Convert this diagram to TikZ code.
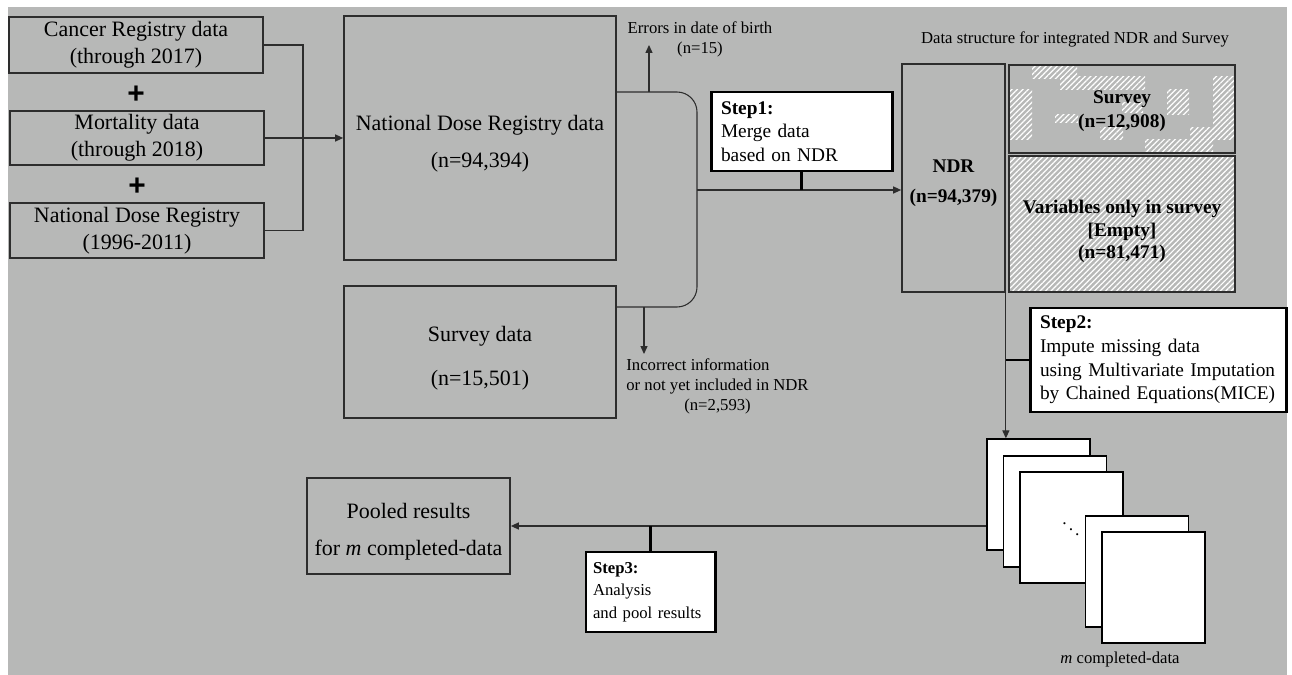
\documentclass[tikz,border=0pt]{standalone}
\usepackage{fontspec}
\setmainfont{Liberation Serif}
\setsansfont{Liberation Sans}
\usepackage{tikz}
\usetikzlibrary{positioning, shapes, arrows.meta, patterns.meta}
\definecolor{bggray}{RGB}{183,184,183}
\definecolor{edge}{RGB}{45,45,45}
\newdimen\px \px=0.02cm
\tikzset{
	srcbox/.style={draw=edge, line width=1pt, align=center, inner sep=0pt, font=\fontsize{12.5}{15.5}\selectfont},
	structbox/.style={draw=edge, line width=1pt, align=center, inner sep=0pt, font=\fontsize{11}{12.8}\selectfont\bfseries},
	stepbox/.style={draw=black, line width=1.7pt, fill=white, align=left, inner xsep=10\px, inner ysep=0pt, font=\fontsize{11}{13.4}\selectfont},
	page/.style={draw=black, fill=white, line width=.8pt, inner sep=0pt, minimum width=103\px, minimum height=111\px},
	note/.style={inner sep=0pt, font=\fontsize{9.5}{11.4}\selectfont},
	conn/.style={draw=edge, line width=.6pt},
	arr/.style={conn, -{Triangle[length=4.5pt, width=4pt]}},
	tick/.style={black, line width=1.7pt},
	hatch/.style={pattern={Lines[angle=45, distance=2.2pt, line width=.7pt]}, pattern color=white},
	plus/.style={inner sep=0pt, font=\fontsize{17}{17}\sffamily\bfseries},
	lowered/.style={text height=#1, text depth=0pt}
}

\begin{document}
\begin{tikzpicture}[x=\px, y=-\px]
\useasboundingbox (0,0) rectangle (1292,675);
\fill[white] (0,0) rectangle (1292,675);
\fill[bggray] (8,7) rectangle (1287,675);

% sources
\node[srcbox, minimum width=254\px, minimum height=56\px] (cancer) at (136,45) {Cancer Registry data\\(through 2017)};
\node[plus] (plusa) at (136,95) {+};
\node[srcbox, minimum width=254\px, minimum height=54\px] (mort) at (137,138) {Mortality data\\(through 2018)};
\node[plus] (plusb) at (137,187) {+};
\node[srcbox, minimum width=254\px, minimum height=55\px] (ndrsrc) at (137,230.5) {National Dose Registry\\(1996-2011)};
\coordinate (join) at (303,138);
\draw[conn] (cancer.east) -| (join) |- (ndrsrc.east);

\node[srcbox, lowered=34pt, minimum width=272\px, minimum height=244\px] (ndrdata) at (480,138) {National Dose Registry data\\[5.5pt](n=94,394)};
\node[srcbox, lowered=37.6pt, minimum width=272\px, minimum height=132\px] (survdata) at (480,352) {Survey data\\[9pt](n=15,501)};
\draw[arr] (mort.east) -- (ndrdata.west);

% merging
\coordinate (mtop) at (697,92);
\coordinate (mbot) at (697,307);
\coordinate (mmid) at (697,190);
\draw[conn, rounded corners=20\px] (ndrdata.east |- mtop) -- (mtop) -- (mbot) -- (survdata.east |- mbot);
\coordinate (errsrc) at (649,92);
\coordinate (errtip) at (649,45);
\draw[arr] (errsrc) -- (errtip);
\node[note, align=center] (errlbl) at (700,39) {Errors in date of birth\\(n=15)};
\coordinate (incsrc) at (644,307);
\coordinate (inctip) at (644,354);
\draw[arr] (incsrc) -- (inctip);
\node[note, align=left, anchor=north west] (inclbl) at (626,358) {Incorrect information\\or not yet included in NDR\\\hspace*{33pt}(n=2,593)};

\node[stepbox, text width=161\px, minimum height=79\px] (step1) at (801.5,131.5) {\textbf{Step1:}\\Merge data\\based on NDR};

% integrated data structure
\node[note] (dslbl) at (1075,39) {Data structure for integrated NDR and Survey};
\node[structbox, lowered=28.4pt, minimum width=103\px, minimum height=228\px] (ndr) at (953.5,178) {NDR\\[4.8pt](n=94,379)};
\draw[arr] (mmid) -- (ndr.west |- mmid);
\draw[tick] (step1.south) -- (step1.south |- mmid);

\foreach \xa/\ya/\xb/\yb in {1032/65/1077/79, 1060/77/1145/90, 1010/90/1032/140, 1055/115/1078/123,
	1122/103/1143/113, 1100/128/1123/140, 1167/90/1189/115, 1213/77/1234/140, 1190/128/1213/140, 1145/140/1213/152}
	\path[hatch] (\xa,\ya) rectangle (\xb,\yb);
\node[structbox, lowered=21.6pt, minimum width=226\px, minimum height=88\px] (survey) at (1122,109) {Survey\\[1.4pt](n=12,908)};
\node[structbox, hatch, lowered=39.8pt, minimum width=226\px, minimum height=136\px] (varonly) at (1122,224) {Variables only in survey\\{}[Empty]\\(n=81,471)};

% imputation
\node[stepbox, text width=236\px, minimum height=104\px] (step2) at (1158,360) {\textbf{Step2:}\\Impute missing data\\using Multivariate Imputation\\by Chained Equations(MICE)};
\node[page] (p1) at (1038.5,494.5) {};
\node[page] (p2) at (1055,511.5) {};
\node[page] (p3) at (1071.5,527.5) {};
\node (dots) at (1071,524) {$\ddots$};
\node[page] (p4) at (1137,571.5) {};
\node[page] (p5) at (1153.5,587.5) {};
\node[note] (pglbl) at (1120,659) {\textit{m} completed-data};
\draw[arr] (ndr.south east) -- (ndr.south east |- p1.north);
\draw[tick] (step2.west) -- (step2.west -| ndr.south east);

% pooling
\node[srcbox, lowered=34pt, minimum width=203\px, minimum height=96\px] (pooled) at (408.5,526) {Pooled results\\[5.5pt]for \textit{m} completed-data};
\draw[arr] (p1.west |- pooled.east) -- (pooled.east);
\node[stepbox, text width=115\px, inner xsep=7\px, minimum height=80\px, font=\fontsize{9.5}{12.8}\selectfont] (step3) at (650.5,592) {\textbf{Step3:}\\Analysis\\and pool results};
\draw[tick] (step3.north) -- (step3.north |- pooled.east);
\end{tikzpicture}
\end{document}
